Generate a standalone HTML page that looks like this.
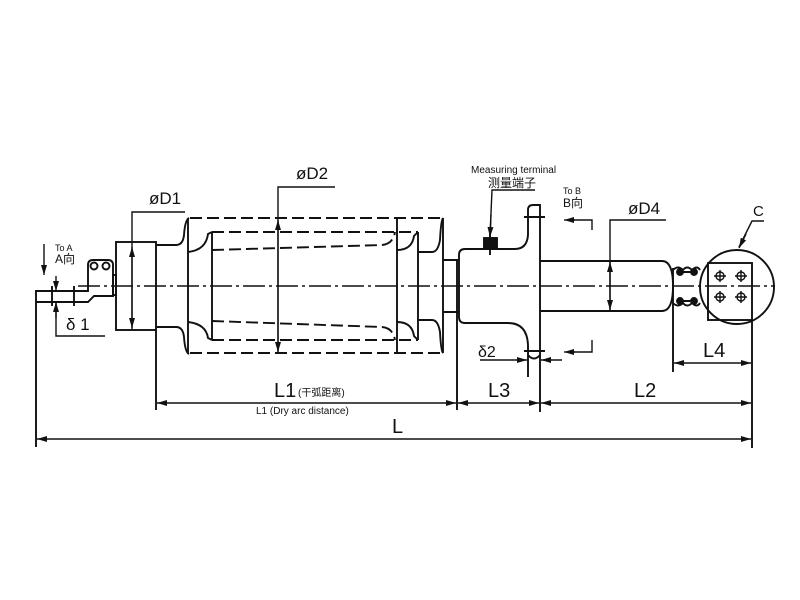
<!DOCTYPE html>
<html><head><meta charset="utf-8"><style>
html,body{margin:0;padding:0;background:#fff;}
svg{display:block;}
text{font-family:"Liberation Sans","Noto Sans CJK SC",sans-serif;fill:#111;}
</style></head><body>
<svg width="800" height="600" viewBox="0 0 800 600" xmlns="http://www.w3.org/2000/svg">
<defs>
<marker id="ar" viewBox="0 0 10 6" refX="10" refY="3" markerWidth="10" markerHeight="6" orient="auto-start-reverse" markerUnits="userSpaceOnUse"><path d="M0,0 L10,3 L0,6 z" fill="#111"/></marker>
</defs>
<g stroke="#111" stroke-width="1.9" fill="none">
<line x1="78" y1="286" x2="775" y2="286" stroke-dasharray="22,4,3,4" stroke-width="1.5"/>
<path d="M36,447 V291 H88 L88,265 Q88,260 93,260 H108 Q113,260 113,265 V296 H94 L88,302 H36"/>
<rect x="113" y="275" width="3" height="20"/>
<circle cx="94" cy="266" r="3.5"/><circle cx="106" cy="266" r="3.5"/>
<line x1="52" y1="286" x2="52" y2="306"/><line x1="74" y1="286" x2="74" y2="306"/>
<rect x="116" y="242" width="40" height="88"/>
<line x1="156" y1="330" x2="156" y2="410"/>
<path d="M156,245 H176 Q183,245 184,235 Q185,220 189,218"/>
<path d="M156,327 H176 Q183,327 184,337 Q185,352 189,354"/>
<line x1="188" y1="218" x2="188" y2="354"/>
<path d="M188,252 Q206,250 208,234 L212,232"/>
<path d="M188,322 Q206,324 208,338 L212,340"/>
<line x1="212" y1="232" x2="212" y2="340"/>
<g stroke-dasharray="12,5">
<line x1="190" y1="218" x2="443" y2="218"/>
<line x1="190" y1="353" x2="443" y2="353"/>
<line x1="212" y1="232" x2="418" y2="232"/>
<line x1="212" y1="340" x2="418" y2="340"/>
<path d="M212,250 L382,245 Q393,244 395,232"/>
<path d="M212,321 L382,327 Q393,328 395,340"/>
</g>
<line x1="397" y1="218" x2="397" y2="353"/>
<path d="M397,250 Q412,250 414,236 L418,232"/>
<path d="M397,322 Q412,322 414,336 L418,340"/>
<line x1="418" y1="232" x2="418" y2="340"/>
<path d="M418,252 H432 Q438,252 440,240 Q441,220 443,218"/>
<path d="M418,320 H432 Q438,320 440,332 Q441,351 443,353"/>
<line x1="443" y1="218" x2="443" y2="353"/>
<path d="M443,260 H459 M443,312 H459"/>
<line x1="457" y1="260" x2="457" y2="410"/>
<path d="M459,255 Q459,249 465,249 H515 Q527,249 528,235 V210 Q528,205 533,205 H540 V412"/>
<path d="M459,312 V317 Q459,323 465,323 H508 Q527,323 528,345 V377"/>
<line x1="459" y1="255" x2="459" y2="312"/>
<line x1="524" y1="217" x2="545" y2="217"/>
<line x1="524" y1="351" x2="545" y2="351"/>
<path d="M528,355 Q534,362 540,355"/>
<rect x="484" y="238" width="13" height="11" fill="#111"/>
<line x1="490" y1="232" x2="490" y2="255"/>
<path d="M540,261 H662 Q673,261 673,286 Q673,311 662,311 H540"/>
<path d="M673,270 Q678,265 683,270 Q687,265 692,270 Q697,265 700,270 M673,303 Q678,308 683,303 Q687,308 692,303 Q697,308 700,303"/>
<line x1="678" y1="272" x2="697" y2="272"/><line x1="678" y1="301" x2="697" y2="301"/>
<line x1="673" y1="268" x2="673" y2="372"/>
<circle cx="680" cy="272" r="3" fill="#111"/><circle cx="694" cy="272" r="3" fill="#111"/>
<circle cx="680" cy="301" r="3" fill="#111"/><circle cx="694" cy="301" r="3" fill="#111"/>
<circle cx="737" cy="287" r="37"/>
<rect x="708" y="263" width="44" height="57"/>
<line x1="752" y1="320" x2="752" y2="448"/>
<g stroke-width="1.4">
<circle cx="720" cy="276" r="4"/><circle cx="741" cy="276" r="4"/>
<circle cx="720" cy="297" r="4"/><circle cx="741" cy="297" r="4"/>
<path d="M714,276h12M720,270v12M735,276h12M741,270v12M714,297h12M720,291v12M735,297h12M741,291v12"/>
</g>
<g stroke-width="1.4">
<path d="M185,212 H132 V330" />
<line x1="132" y1="247" x2="132" y2="328" marker-start="url(#ar)" marker-end="url(#ar)"/>
<path d="M335,187 H278 V354"/>
<line x1="278" y1="220" x2="278" y2="352" marker-start="url(#ar)" marker-end="url(#ar)"/>
<path d="M666,220 H610 V311"/>
<line x1="610" y1="262" x2="610" y2="310" marker-start="url(#ar)" marker-end="url(#ar)"/>
<path d="M764,221 H752 L739,247"/>
<line x1="746" y1="234" x2="739" y2="248" marker-end="url(#ar)"/>
<line x1="157" y1="403" x2="456" y2="403" marker-start="url(#ar)" marker-end="url(#ar)"/>
<line x1="458" y1="403" x2="539" y2="403" marker-start="url(#ar)" marker-end="url(#ar)"/>
<line x1="541" y1="403" x2="751" y2="403" marker-start="url(#ar)" marker-end="url(#ar)"/>
<line x1="37" y1="439" x2="751" y2="439" marker-start="url(#ar)" marker-end="url(#ar)"/>
<line x1="674" y1="363" x2="751" y2="363" marker-start="url(#ar)" marker-end="url(#ar)"/>
<line x1="480" y1="360" x2="527" y2="360" marker-end="url(#ar)"/>
<line x1="562" y1="360" x2="541" y2="360" marker-end="url(#ar)"/>
<path d="M592,230 V220 H570"/><line x1="575" y1="220" x2="564" y2="220" marker-end="url(#ar)"/>
<path d="M592,340 V352 H570"/><line x1="575" y1="352" x2="564" y2="352" marker-end="url(#ar)"/>
<line x1="44" y1="244" x2="44" y2="275" marker-end="url(#ar)"/>
<line x1="56" y1="276" x2="56" y2="291" marker-end="url(#ar)"/>
<path d="M56,302 V336 H105"/>
<line x1="56" y1="318" x2="56" y2="302" marker-end="url(#ar)"/>
<path d="M535,190 H492 L490,236"/>
<line x1="491" y1="215" x2="490" y2="237" marker-end="url(#ar)"/>
</g>
</g>
<g font-size="17">
<text x="149" y="204">øD1</text>
<text x="296" y="179">øD2</text>
<text x="628" y="214">øD4</text>
<text x="753" y="216" font-family="Liberation Serif,serif" font-size="15">C</text>
<text x="274" y="397" font-size="20">L1</text>
<text x="298" y="396" font-size="10">(干弧距离)</text>
<text x="256" y="414" font-size="10">L1 (Dry arc distance)</text>
<text x="488" y="397" font-size="20">L3</text>
<text x="634" y="397" font-size="20">L2</text>
<text x="392" y="433" font-size="20">L</text>
<text x="703" y="357" font-size="20">L4</text>
<text x="478" y="357" font-size="16">δ2</text>
<text x="66" y="330" font-size="17" font-family="Liberation Serif,serif">δ 1</text>
<text x="471" y="173" font-size="10">Measuring terminal</text>
<text x="488" y="187" font-size="12">测量端子</text>
<text x="563" y="194" font-size="9">To B</text>
<text x="563" y="207" font-size="12">B向</text>
<text x="55" y="251" font-size="9">To A</text>
<text x="55" y="263" font-size="12">A向</text>
</g>
</svg>
</body></html>
